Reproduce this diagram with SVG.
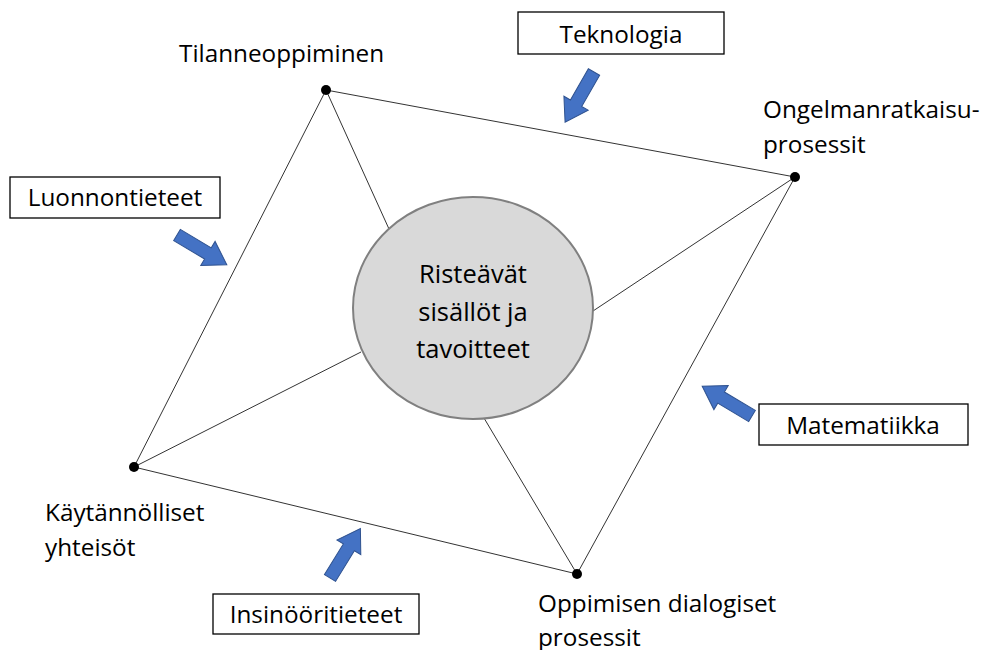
<svg xmlns="http://www.w3.org/2000/svg" width="984" height="650" viewBox="0 0 984 650">
<style>
text{font-family:"Open Sans","Liberation Sans",sans-serif;font-size:24.3px;fill:#000}
.c{text-anchor:middle}
.big{font-size:25.5px}
.box{fill:#fff;stroke:#000;stroke-width:1.3}
.edge{stroke:#333;stroke-width:1;fill:none}
.arr{fill:#4472C4;stroke:#2F528F;stroke-width:1}
</style>
<defs>
<path id="blk" d="M0,-6.5 L36,-6.5 L36,-14 L58,0 L36,14 L36,6.5 L0,6.5 Z"/>
</defs>
<rect width="984" height="650" fill="#fff"/>
<g id="connectors">
<path class="edge" d="M326,90 L795,177 L577,574 L134,467 Z"/>
<line class="edge" x1="326" y1="90" x2="389" y2="229"/>
<line class="edge" x1="795" y1="177" x2="593" y2="311"/>
<line class="edge" x1="577" y1="574" x2="481" y2="413"/>
<line class="edge" x1="134" y1="467" x2="361" y2="352"/>
</g>
<g id="center">
<ellipse cx="473" cy="308" rx="120" ry="111" fill="#d9d9d9" stroke="#808080" stroke-width="2"/>
<text class="c big" x="473" y="283">Risteävät</text>
<text class="c big" x="473" y="321">sisällöt ja</text>
<text class="c big" x="473" y="358">tavoitteet</text>
</g>
<g id="tilanneoppiminen">
<circle cx="326" cy="90" r="5"/>
<text x="179" y="62">Tilanneoppiminen</text>
</g>
<g id="ongelmanratkaisu">
<circle cx="795" cy="177" r="5"/>
<text x="763" y="118">Ongelmanratkaisu-</text>
<text x="763" y="153">prosessit</text>
</g>
<g id="oppimisen">
<circle cx="577" cy="574" r="5"/>
<text x="538" y="612">Oppimisen dialogiset</text>
<text x="538" y="646">prosessit</text>
</g>
<g id="kaytannolliset">
<circle cx="134" cy="467" r="5"/>
<text x="45" y="521">Käytännölliset</text>
<text x="45" y="556">yhteisöt</text>
</g>
<g id="teknologia">
<rect class="box" x="518" y="12" width="206" height="42"/>
<text class="c" x="621" y="43">Teknologia</text>
<use href="#blk" class="arr" transform="translate(594,72) rotate(119.9)"/>
</g>
<g id="luonnontieteet">
<rect class="box" x="10" y="177" width="210" height="41"/>
<text class="c" x="115" y="206">Luonnontieteet</text>
<use href="#blk" class="arr" transform="translate(177,235) rotate(30.8)"/>
</g>
<g id="matematiikka">
<rect class="box" x="759" y="404" width="209" height="41"/>
<text class="c" x="863" y="434">Matematiikka</text>
<use href="#blk" class="arr" transform="translate(752,416) rotate(210.8)"/>
</g>
<g id="insinooritieteet">
<rect class="box" x="213" y="594" width="206" height="40"/>
<text class="c" x="316" y="623">Insinööritieteet</text>
<use href="#blk" class="arr" transform="translate(330,578) rotate(-58.4)"/>
</g>
</svg>
